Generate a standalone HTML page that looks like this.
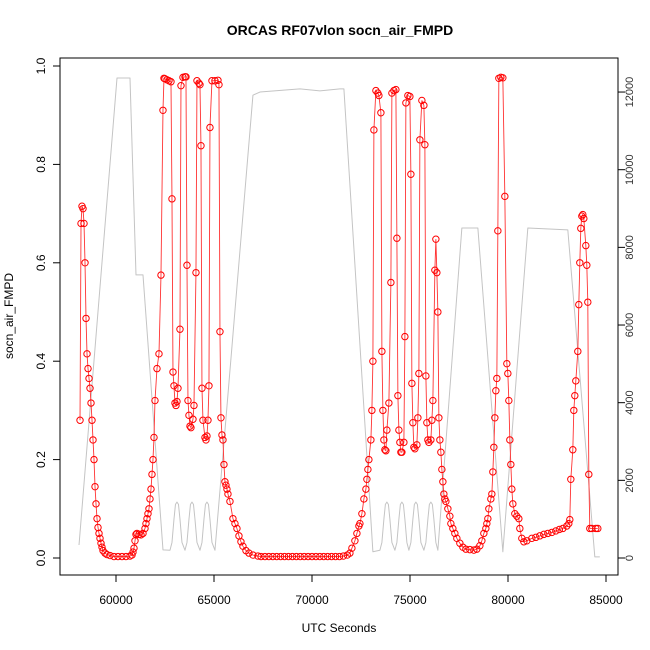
<!DOCTYPE html>
<html><head><meta charset="utf-8"><style>
body{margin:0;background:#fff;}
svg{display:block;font-family:"Liberation Sans",sans-serif;}
</style></head><body>
<svg id="chart" width="650" height="650" xmlns="http://www.w3.org/2000/svg">
<text x="340" y="35" text-anchor="middle" font-size="14" font-weight="bold">ORCAS RF07vlon socn_air_FMPD</text>
<rect x="60" y="58" width="558" height="517" fill="none" stroke="#000" stroke-width="1"/>
<text x="339" y="632" text-anchor="middle" font-size="12">UTC Seconds</text>
<text transform="translate(13,316) rotate(-90)" text-anchor="middle" font-size="12">socn_air_FMPD</text>
<g id="axes"></g>
<g id="alt"></g>
<g id="series"></g>
</svg>
<script>
const xTicks=[60000,65000,70000,75000,80000,85000];
const yTicks=[0,0.2,0.4,0.6,0.8,1.0];
const yTickLabels=["0.0","0.2","0.4","0.6","0.8","1.0"];
const rTicks=[0,2000,4000,6000,8000,10000,12000];
const altT=[58113,60051,60714,61020,61377,62397,
62754,62856,62958,63034,63111,63188,63264,63366,
63519,63621,63723,63799,63876,63953,64029,64131,
64284,64386,64488,64564,64641,64718,64794,64896,65049,
66987,67344,69384,70404,71424,71628,73107,
73464,73566,73668,73744,73821,73898,73974,74076,
74229,74331,74433,74509,74586,74663,74739,74841,
74943,75045,75147,75223,75300,75377,75453,75555,
75708,75810,75912,75988,76065,76142,76218,76320,76422,
77646,78462,79737,81012,83052,84429,84684];
const altV=[335,12360,12360,7290,7290,210,
200,400,1000,1380,1440,1380,1000,400,
200,400,1000,1380,1440,1380,1000,400,
200,400,1000,1380,1440,1380,1000,400,200,
11920,12000,12080,12030,12080,12080,160,
200,400,1000,1380,1440,1380,1000,400,
200,400,1000,1380,1440,1380,1000,400,
200,400,1000,1380,1440,1380,1000,400,
200,400,1000,1380,1440,1380,1000,400,200,
8500,8500,160,8500,8450,30,30];
const tSec=[58164,58215,58266,58317,58368,58419,58470,58521,58572,58623,58674,58725,58776,58827,58878,58929,58980,59031,59082,59133,59184,59235,59286,59337,59439,59541,59694,59898,60102,60306,60510,60714,60816,60867,60918,60969,61020,61071,61173,61275,61377,61479,61530,61581,61632,61683,61734,61785,61836,61887,61938,61989,62091,62193,62295,
62397,62448,62499,62601,62703,62805,62856,62907,62958,63009,63060,63111,63162,63264,63315,63417,63519,63570,63621,63672,63723,63774,63825,63927,63978,64080,64131,64233,64284,64335,64386,64437,64539,64590,64641,64692,64743,64794,64896,65049,65202,65253,65304,65355,65406,65457,65508,65559,65610,65661,65712,65814,65967,66069,66171,66273,66375,66477,66630,66783,66987,67242,
67400,67600,67800,68000,68200,68400,68600,68800,69000,69200,69400,69600,69800,70000,70200,70400,70600,70800,71000,71200,71400,71600,71800,
71934,72036,72189,72291,72393,72444,72546,72648,72750,72801,72852,72903,73005,73056,73107,73158,73260,73362,73413,73515,73566,73617,73668,73719,73770,73821,73923,74025,74076,74178,74280,74331,74382,74433,74484,74535,74586,74688,74739,74790,74892,74994,75045,75096,75147,75198,75249,75351,75402,75453,75504,75606,75708,75759,75810,75861,75912,75963,76065,76116,76167,76269,76320,76371,76422,76473,76524,76575,76626,76677,76728,76779,76830,76932,77034,77085,77187,77289,77391,77544,77697,77850,78054,78258,78411,78564,78666,78768,78870,78921,78972,79023,79125,79176,79227,79278,79329,79380,79431,79482,79533,79635,79737,79839,79941,79992,80043,80094,80145,80196,80247,80349,80451,80553,80604,80706,80808,80961,81216,81420,81624,81828,82032,82236,82440,82620,82797,83001,83103,83154,83205,83307,83358,83409,83460,83562,83613,83664,83715,83766,83817,83868,83970,84021,84072,84123,84174,84276,84480,84582];
const fmpd=[0.28,0.68,0.715,0.71,0.68,0.60,0.487,0.415,0.385,0.365,0.345,0.315,0.28,0.24,0.2,0.145,0.11,0.08,0.062,0.05,0.04,0.03,0.022,0.015,0.01,0.007,0.005,0.003,0.003,0.003,0.003,0.004,0.006,0.012,0.02,0.035,0.048,0.05,0.048,0.047,0.05,0.06,0.07,0.08,0.09,0.10,0.12,0.14,0.17,0.2,0.245,0.32,0.385,0.415,0.575,
0.91,0.975,0.974,0.972,0.97,0.968,0.73,0.378,0.35,0.315,0.31,0.318,0.345,0.465,0.96,0.977,0.978,0.978,0.595,0.32,0.29,0.268,0.265,0.282,0.31,0.58,0.97,0.965,0.962,0.838,0.345,0.28,0.245,0.24,0.248,0.28,0.35,0.875,0.97,0.97,0.971,0.962,0.46,0.285,0.25,0.24,0.19,0.155,0.148,0.14,0.13,0.115,0.08,0.07,0.06,0.045,0.033,0.024,0.015,0.01,0.006,0.004,
0.003,0.003,0.003,0.003,0.003,0.003,0.003,0.003,0.003,0.003,0.003,0.003,0.003,0.003,0.003,0.003,0.003,0.003,0.003,0.003,0.003,0.004,0.006,
0.01,0.02,0.035,0.05,0.065,0.07,0.09,0.12,0.14,0.16,0.18,0.2,0.24,0.3,0.4,0.87,0.95,0.945,0.94,0.905,0.42,0.3,0.24,0.22,0.218,0.26,0.315,0.56,0.945,0.95,0.952,0.65,0.33,0.26,0.235,0.215,0.215,0.235,0.45,0.925,0.94,0.938,0.78,0.355,0.275,0.225,0.222,0.23,0.285,0.375,0.85,0.93,0.92,0.84,0.37,0.275,0.24,0.235,0.24,0.28,0.32,0.585,0.648,0.58,0.5,0.285,0.24,0.215,0.18,0.155,0.13,0.12,0.115,0.1,0.085,0.07,0.06,0.05,0.04,0.03,0.022,0.018,0.017,0.016,0.018,0.025,0.035,0.05,0.06,0.07,0.08,0.1,0.12,0.13,0.175,0.225,0.285,0.34,0.365,0.665,0.975,0.977,0.976,0.735,0.395,0.375,0.32,0.24,0.19,0.14,0.11,0.09,0.085,0.08,0.06,0.04,0.033,0.035,0.04,0.042,0.045,0.048,0.05,0.052,0.055,0.058,0.06,0.065,0.07,0.078,0.16,0.22,0.3,0.33,0.36,0.42,0.515,0.6,0.67,0.695,0.698,0.69,0.635,0.595,0.52,0.17,0.06,0.06,0.06,0.06];

const NS="http://www.w3.org/2000/svg";
const xS=t=>116+(t-60000)*0.0196;
const yS=v=>558-v*492;
const rS=a=>558-a*0.03883;
function mk(tag,attrs,parent){const e=document.createElementNS(NS,tag);for(const k in attrs)e.setAttribute(k,attrs[k]);parent.appendChild(e);return e;}
const axes=document.getElementById('axes');
xTicks.forEach(t=>{
  const l=mk('line',{x1:xS(t),x2:xS(t),y1:575,y2:582,stroke:'#000'},axes);
  
  
  const tx=mk('text',{x:xS(t),y:604,'text-anchor':'middle','font-size':12},axes);
  tx.textContent=t;
  
  
});
mk('line',{x1:xS(60000),x2:xS(85000),y1:575,y2:575,stroke:'#000'},axes);
yTicks.forEach((v,i)=>{
  const l=mk('line',{x1:53,x2:60,y1:yS(v),y2:yS(v),stroke:'#000'},axes);
  
  
  const tx=mk('text',{transform:`translate(45,${yS(v)}) rotate(-90)`,'text-anchor':'middle','font-size':12},axes);
  tx.textContent=yTickLabels[i];
  
  
});
rTicks.forEach(a=>{
  const l=mk('line',{x1:618,x2:625,y1:rS(a),y2:rS(a),stroke:'#000'},axes);
  
  
  const tx=mk('text',{transform:`translate(633,${rS(a)}) rotate(-90)`,'text-anchor':'middle','font-size':11,fill:'#333'},axes);
  tx.textContent=a;
  
  
});
const altG=document.getElementById('alt');
const ap=mk('polyline',{points:altT.map((t,i)=>xS(t)+','+rS(altV[i])).join(' '),fill:'none',stroke:'#c4c4c4','stroke-width':1,'stroke-linejoin':'round'},altG);


const sg=document.getElementById('series');
const pl=mk('polyline',{points:tSec.map((t,i)=>xS(t)+','+yS(fmpd[i])).join(' '),fill:'none',stroke:'#f33','stroke-width':0.9},sg);


tSec.forEach((t,i)=>{
  const c=mk('circle',{cx:xS(t),cy:yS(fmpd[i]),r:3.2,fill:'none',stroke:'#f00','stroke-width':1},sg);
  
  
});
</script>
</body></html>
